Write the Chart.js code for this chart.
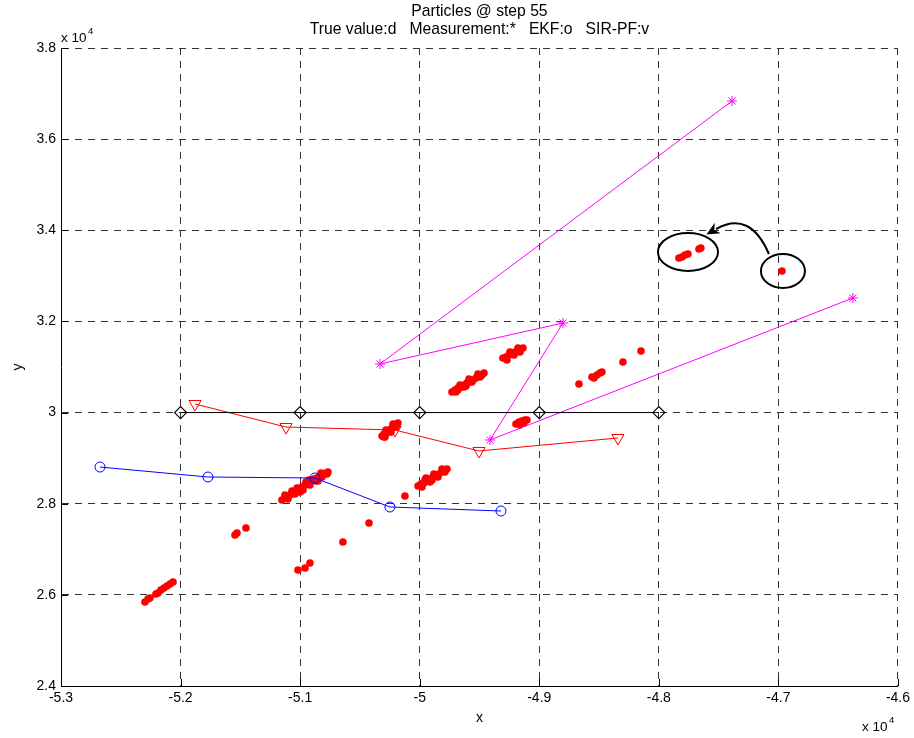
<!DOCTYPE html>
<html>
<head>
<meta charset="utf-8">
<script src="https://cdn.jsdelivr.net/npm/chart.js@4.4.1/dist/chart.umd.min.js"></script>
<style>
  html, body { margin: 0; padding: 0; background: #ffffff; }
  #wrap { width: 914px; height: 738px; }
</style>
</head>
<body>
<div id="wrap"><canvas id="c" width="914" height="738"></canvas></div>
<script>
// Axis ticks (raw units, labelled in units of 10^4)
const xTickValues = [-53000, -52000, -51000, -50000, -49000, -48000, -47000, -46000];
const yTickValues = [24000, 26000, 28000, 30000, 32000, 34000, 36000, 38000];

// True trajectory (diamonds)
const truthX = [-52000, -51000, -50000, -49000, -48000];
const truthY = [30000, 30000, 30000, 30000, 30000];

// Measurements (asterisks)
const measX = [-47388, -50332, -48802, -49412, -46377];
const measY = [36837, 31066, 31965, 29398, 32514];

// EKF estimates (circles)
const ekfX = [-52674, -51771, -50876, -50249, -49320];
const ekfY = [28805, 28586, 28564, 27928, 27840];

// SIR-PF estimates (down triangles)
const pfX = [-51879, -51118, -50207, -49504, -48342];
const pfY = [30188, 29683, 29617, 29157, 29442];

// Particle cloud
const particleX = [
  -52298, -52272, -52206, -52189, -52139, -52113, -52088, -52063, -52256, -52164,
  -51545, -51528, -51453,
  -51152, -51118, -51085, -51060, -51035, -51010, -50985, -50959, -50934, -50909,
  -50884, -50859, -50834, -50809, -50784, -50767, -51068, -51001, -50951, -50851,
  -51102, -51043, -50976, -50918, -50867, -50817, -50775, -51127, -51026, -50926, -50826,
  -51018, -50959, -50918, -50642, -50424, -50123,
  -50014, -49989, -49964, -49939, -49914, -49889, -49864, -49839, -49814, -49789, -49772, -49956, -49897,
  -49981, -49914, -49847, -49789, -49947, -49881, -49814,
  -50315, -50299, -50282, -50265, -50249, -50232, -50215, -50198, -50182, -50290, -50240,
  -50299, -50249, -50198, -50282, -50223,
  -49730, -49705, -49680, -49655, -49630, -49605, -49579, -49554, -49529, -49504, -49479, -49462, -49680, -49613,
  -49697, -49630, -49563, -49496, -49663, -49588, -49513,
  -49304, -49278, -49253, -49228, -49203, -49178, -49153, -49136, -49270,
  -49278, -49211, -49161, -49245, -49178,
  -49195, -49170, -49145, -49120, -49103, -49161, -49128,
  -48668, -48559, -48542, -48517, -48492, -48476, -48300, -48149,
  -47832, -47806, -47781, -47756, -47664, -47648, -46970
];
const particleY = [
  25843, 25909, 26018, 26041, 26150, 26194, 26238, 26282, 25931, 26106,
  27313, 27357, 27467,
  28081, 28147, 28191, 28235, 28279, 28323, 28367, 28410, 28454, 28498,
  28542, 28564, 28608, 28652, 28674, 28696, 28279, 28257, 28476, 28498,
  28103, 28213, 28301, 28410, 28498, 28586, 28652, 28191, 28345, 28520, 28674,
  26545, 26589, 26699, 27160, 27577, 28169,
  28389, 28432, 28454, 28498, 28542, 28586, 28630, 28652, 28696, 28740, 28762, 28520, 28520,
  28367, 28476, 28586, 28696, 28564, 28652, 28762,
  29486, 29530, 29552, 29595, 29617, 29661, 29683, 29727, 29771, 29464, 29574,
  29464, 29574, 29683, 29617, 29749,
  30451, 30495, 30539, 30561, 30605, 30649, 30671, 30715, 30758, 30802, 30824, 30868, 30495, 30583,
  30451, 30561, 30671, 30780, 30605, 30736, 30846,
  31197, 31219, 31263, 31285, 31329, 31351, 31395, 31417, 31153,
  31175, 31263, 31329, 31329, 31417,
  29749, 29793, 29815, 29837, 29837, 29727, 29771,
  30627, 30780, 30758, 30824, 30868, 30890, 31110, 31351,
  33392, 33414, 33458, 33480, 33589, 33611, 33106
];

// Callout: two rings and a curved arrow (data units)
const ringCluster = { x: -47756, y: 33523, rx: 251, ry: 417 };
const ringSingle  = { x: -46962, y: 33106, rx: 184, ry: 373 };
const arrowPath   = { start: [-47079, 33480], ctrl: [-47238, 34445], end: [-47522, 34028] };

const FONT = "'Liberation Sans', Arial, Helvetica, sans-serif";

const pts = (xs, ys) => xs.map((x, i) => ({ x: x, y: ys[i] }));
const fmt = v => String(+(v / 10000).toFixed(1));

const decorPlugin = {
  id: 'decor',
  afterDatasetsDraw(chart) {
    const { ctx, scales: { x, y } } = chart;
    const px = v => x.getPixelForValue(v);
    const py = v => y.getPixelForValue(v);
    ctx.save();
    ctx.strokeStyle = '#000';
    ctx.lineWidth = 2;
    [ringCluster, ringSingle].forEach(r => {
      const cx = px(r.x), cy = py(r.y);
      const rx = Math.abs(px(r.x + r.rx) - cx), ry = Math.abs(py(r.y + r.ry) - cy);
      ctx.beginPath();
      ctx.ellipse(cx, cy, rx, ry, 0, 0, Math.PI * 2);
      ctx.stroke();
    });
    const s = [px(arrowPath.start[0]), py(arrowPath.start[1])];
    const c = [px(arrowPath.ctrl[0]), py(arrowPath.ctrl[1])];
    const e = [px(arrowPath.end[0]), py(arrowPath.end[1])];
    ctx.beginPath();
    ctx.moveTo(s[0], s[1]);
    ctx.quadraticCurveTo(c[0], c[1], e[0], e[1]);
    ctx.stroke();
    // arrow head along the end tangent
    let dx = e[0] - c[0], dy = e[1] - c[1];
    const len = Math.hypot(dx, dy); dx /= len; dy /= len;
    const tip = [e[0] + dx * 11, e[1] + dy * 11];
    const nx = -dy, ny = dx;
    ctx.fillStyle = '#000';
    ctx.beginPath();
    ctx.moveTo(tip[0], tip[1]);
    ctx.lineTo(e[0] + nx * 6 - dx * 2, e[1] + ny * 6 - dy * 2);
    ctx.lineTo(e[0] + dx * 2, e[1] + dy * 2);
    ctx.lineTo(e[0] - nx * 6 - dx * 2, e[1] - ny * 6 - dy * 2);
    ctx.closePath();
    ctx.fill();
    ctx.restore();
  },
  afterDraw(chart) {
    const { ctx, chartArea: a, scales: { x, y } } = chart;
    ctx.save();
    // inward tick marks
    ctx.strokeStyle = '#000';
    ctx.lineWidth = 1;
    ctx.beginPath();
    xTickValues.forEach(v => {
      const p = Math.round(x.getPixelForValue(v)) + 0.5;
      ctx.moveTo(p, a.bottom); ctx.lineTo(p, a.bottom - 7);
    });
    yTickValues.forEach(v => {
      const p = Math.round(y.getPixelForValue(v)) + 0.5;
      ctx.moveTo(a.left, p); ctx.lineTo(a.left + 7, p);
    });
    ctx.stroke();

    ctx.fillStyle = '#000';
    const cx = (a.left + a.right) / 2;
    ctx.textAlign = 'center';
    ctx.textBaseline = 'middle';
    ctx.font = '15.7px ' + FONT;
    ctx.fillText('Particles @ step 55', cx, 12);
    ctx.fillText('True value:d   Measurement:*   EKF:o   SIR-PF:v', cx, 30);
    ctx.font = '14px ' + FONT;
    ctx.fillText('x', cx, 718);
    ctx.save();
    ctx.translate(18, (a.top + a.bottom) / 2);
    ctx.rotate(-Math.PI / 2);
    ctx.fillText('y', 0, 0);
    ctx.restore();

    // scale exponents
    ctx.textAlign = 'left';
    ctx.font = '13.5px ' + FONT;
    ctx.fillText('x 10', 61, 38);
    ctx.fillText('x 10', 862, 727);
    ctx.font = '9.5px ' + FONT;
    ctx.fillText('4', 88, 31);
    ctx.fillText('4', 889, 720);
    ctx.restore();
  }
};

new Chart(document.getElementById('c'), {
  type: 'scatter',
  data: {
    datasets: [
      {
        label: 'True value', data: pts(truthX, truthY), showLine: true, order: 1,
        borderColor: '#000000', borderWidth: 1, backgroundColor: 'rgba(0,0,0,0)',
        pointStyle: 'rectRot', pointRadius: 6, pointBorderWidth: 1.2, pointBorderColor: '#000000'
      },
      {
        label: 'Measurement', data: pts(measX, measY), showLine: true, order: 2,
        borderColor: '#ff00ff', borderWidth: 1, backgroundColor: 'rgba(0,0,0,0)',
        pointStyle: 'star', pointRadius: 5, pointBorderWidth: 1, pointBorderColor: '#ff00ff'
      },
      {
        label: 'EKF', data: pts(ekfX, ekfY), showLine: true, order: 3,
        borderColor: '#0000ff', borderWidth: 1, backgroundColor: 'rgba(0,0,0,0)',
        pointStyle: 'circle', pointRadius: 5, pointBorderWidth: 1, pointBorderColor: '#0000ff'
      },
      {
        label: 'SIR-PF', data: pts(pfX, pfY), showLine: true, order: 4,
        borderColor: '#ff0000', borderWidth: 1, backgroundColor: 'rgba(0,0,0,0)',
        pointStyle: 'triangle', rotation: 180, pointRadius: 7, pointBorderWidth: 1, pointBorderColor: '#ff0000'
      },
      {
        label: 'Particles', data: pts(particleX, particleY), showLine: false, order: 10,
        pointStyle: 'circle', pointRadius: 3.8, pointBorderWidth: 0,
        backgroundColor: '#ff0000', pointBackgroundColor: '#ff0000', borderColor: '#ff0000'
      }
    ]
  },
  options: {
    responsive: false,
    animation: false,
    devicePixelRatio: 1,
    layout: { padding: { top: 48, right: 16, bottom: 0, left: 0 } },
    plugins: { legend: { display: false }, tooltip: { enabled: false }, title: { display: false } },
    elements: { line: { tension: 0, fill: false } },
    scales: {
      x: {
        type: 'linear', min: -53000, max: -46000,
        afterBuildTicks: s => { s.ticks = xTickValues.map(v => ({ value: v })); },
        afterFit: s => { s.height = 52; },
        ticks: { callback: v => fmt(v), color: '#000', font: { family: FONT, size: 14 }, padding: 4, maxRotation: 0, autoSkip: false },
        grid: { color: '#333333', lineWidth: 1, drawTicks: false },
        border: { display: true, color: '#000', width: 1, dash: [7, 6] }
      },
      y: {
        type: 'linear', min: 24000, max: 38000,
        afterBuildTicks: s => { s.ticks = yTickValues.map(v => ({ value: v })); },
        afterFit: s => { s.width = 61; },
        ticks: { callback: v => fmt(v), color: '#000', font: { family: FONT, size: 14 }, padding: 5, autoSkip: false },
        grid: { color: '#333333', lineWidth: 1, drawTicks: false },
        border: { display: true, color: '#000', width: 1, dash: [7, 6] }
      }
    }
  },
  plugins: [decorPlugin]
});
</script>
</body>
</html>
